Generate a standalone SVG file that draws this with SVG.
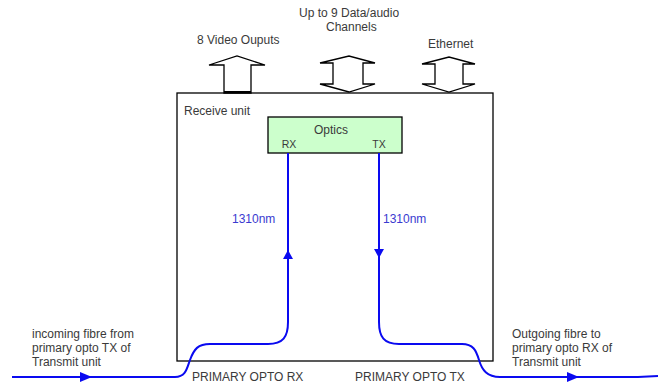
<svg xmlns="http://www.w3.org/2000/svg" width="658" height="383" viewBox="0 0 658 383">
<style>
text{font-family:"Liberation Sans",Arial,sans-serif;font-size:12px;fill:#3a3a3a}
.blk{fill:#fff;stroke:#000;stroke-width:1.3}
.fibre{fill:none;stroke:#0a0af0;stroke-width:2}
.ah{fill:#0a0af0;stroke:none}
.nm{fill:#3a3ad0}
.small{font-size:10.5px}
</style>
<rect width="658" height="383" fill="#fff"/>
<g id="receive-unit">
<rect x="177" y="93" width="316" height="268" class="blk"/>
<text x="184" y="115">Receive unit</text>
</g>
<g id="video-outputs">
<polygon class="blk" points="224,93 224,65 209,65 237,56 265,65 251,65 251,93"/>
<line x1="224" y1="92" x2="251" y2="92" stroke="#000" stroke-width="2"/>
<text x="197" y="44">8 Video Ouputs</text>
</g>
<g id="data-audio">
<polygon class="blk" points="333,63 320,63 349,56 375,63 363,63 363,84 375,84 349,92 320,84 333,84"/>
<text x="299" y="17">Up to 9 Data/audio</text>
<text x="326" y="31">Channels</text>
</g>
<g id="ethernet">
<polygon class="blk" points="435,64 422,64 449,57 475,64 463,64 463,84 475,84 449,92 422,84 435,84"/>
<text x="428" y="48">Ethernet</text>
</g>
<g id="optics">
<rect x="268" y="117" width="134" height="36" fill="#ccffcc" stroke="#000" stroke-width="1.3"/>
<text x="331" y="134" text-anchor="middle" font-size="13">Optics</text>
<text x="289" y="148" text-anchor="middle" class="small">RX</text>
<text x="379" y="148" text-anchor="middle" class="small">TX</text>
</g>
<g id="connectors">
<path class="fibre" d="M12,377 H175 C186,377 187,368 190,360 C194,349 198,344 210,344 H268 C283,344 288,337 288,322 V153"/>
<polygon class="ah" points="288,250 283,259 293,259"/>
<polygon class="ah" points="92,377 80,372 80,382"/>
<path class="fibre" d="M379,153 V322 C379,337 384,344 399,344 H462 C473,344 476,350 479,360 C482,370 487,377 500,377 H638 L658,376"/>
<polygon class="ah" points="379,258 374,249 384,249"/>
<polygon class="ah" points="579,377 567,372 567,382"/>
</g>
<g id="labels">
<text x="232" y="223" class="nm">1310nm</text>
<text x="383" y="223" class="nm">1310nm</text>
<text x="32" y="338">incoming fibre from</text>
<text x="32" y="352">primary opto TX of</text>
<text x="32" y="366">Transmit unit</text>
<text x="512" y="338">Outgoing fibre to</text>
<text x="512" y="352">primary opto RX of</text>
<text x="512" y="366">Transmit unit</text>
<text x="192" y="381">PRIMARY OPTO RX</text>
<text x="355" y="381">PRIMARY OPTO TX</text>
</g>
</svg>
